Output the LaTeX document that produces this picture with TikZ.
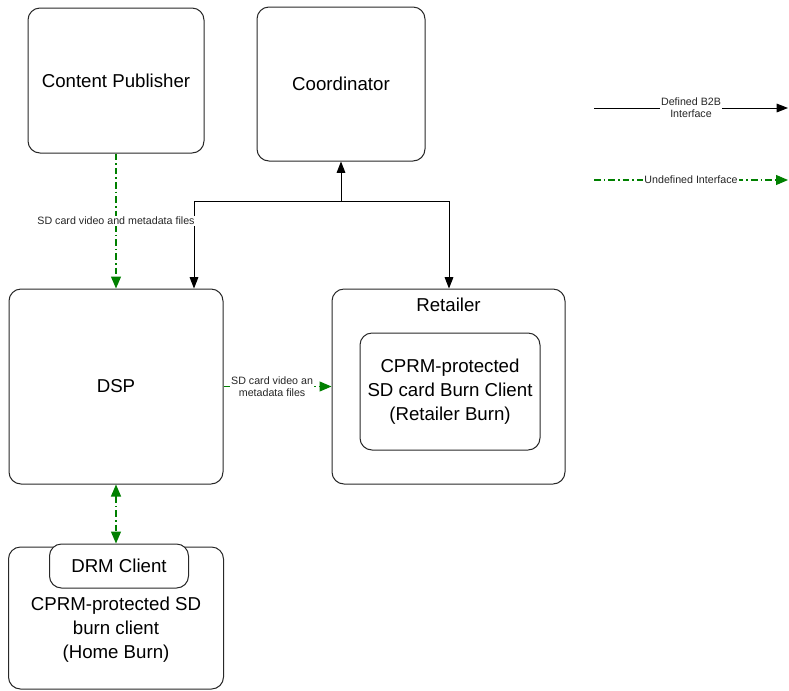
\documentclass[tikz,border=0pt]{standalone}
\usepackage{fontspec}
\setmainfont{Liberation Sans}
\usetikzlibrary{arrows.meta}
\definecolor{lgreen}{RGB}{0,128,0}
\definecolor{boxline}{RGB}{40,40,40}
\begin{document}
\begin{tikzpicture}[x=0.75pt,y=-0.75pt,
  box/.style={draw=boxline,line width=0.75pt,rounded corners=9pt,fill=white,inner sep=0pt,
    font=\fontsize{14}{18}\selectfont,align=center},
  bigtext/.style={inner sep=0pt,font=\fontsize{14}{18}\selectfont,align=center},
  smalllbl/.style={fill=white,inner sep=1pt,font=\fontsize{8}{9}\selectfont,align=center,text=black!85},
  bline/.style={draw=black,line width=0.75pt,-{Triangle[length=8.5pt,width=6.5pt]}},
  gline/.style={draw=lgreen,line width=0.9pt,dash pattern=on 5pt off 2.25pt on 1.2pt off 2.25pt,
    -{Triangle[length=9pt,width=7.5pt]}},
  gboth/.style={draw=lgreen,line width=0.9pt,dash pattern=on 5pt off 2.25pt on 1.2pt off 2.25pt,
    {Triangle[length=9pt,width=7.5pt]}-{Triangle[length=9pt,width=7.5pt]}}
]
\useasboundingbox (0,0) rectangle (789,690);

% boxes
\node[box,minimum width=132pt,minimum height=108.75pt] (cp) at (116,80.5) {Content Publisher};
\node[box,minimum width=126pt,minimum height=115.5pt] (coord) at (341,84) {Coordinator};
\node[box,minimum width=160.5pt,minimum height=146.25pt] (dsp) at (116,386.5) {DSP};
\node[box,minimum width=174.75pt,minimum height=146.25pt] (ret) at (448.5,386.5) {};
\node[bigtext] (retlbl) at (448.5,305) {Retailer};
\node[box,minimum width=135pt,minimum height=87.75pt] (inner) at (450,391.5) {CPRM-protected\\SD card Burn Client\\(Retailer Burn)};
\node[box,minimum width=161.25pt,minimum height=106.5pt] (home) at (116,618) {};
\node[box,minimum width=104.25pt,minimum height=33pt] (drm) at (119,566) {DRM Client};
\node[bigtext] (homelbl) at (116,630) {CPRM-protected SD\\burn client\\(Home Burn)};

% coordinator connectors
\coordinate (j) at (341,201);
\coordinate (lt) at (194,201);
\coordinate (rt) at (449,201);
\draw[bline] (j) -- (coord.south);
\draw[bline] (j) -- (lt) -- (lt |- dsp.north);
\draw[bline] (j) -- (rt) -- (rt |- ret.north);

% green connectors
\draw[gline] (cp.south) -- node[smalllbl] (lbl1) {SD card video and metadata files} (dsp.north);
\draw[gline] (dsp.east) -- node[smalllbl,pos=0.45] (lbl2) {SD card video an\\metadata files} (ret.west);
\draw[gboth] (dsp.south) -- (dsp.south |- drm.north);

% legend
\coordinate (l1a) at (594,108);
\coordinate (l1b) at (788,108);
\draw[bline] (l1a) -- node[smalllbl] (leg1) {Defined B2B\\Interface} (l1b);
\coordinate (l2a) at (594,180);
\coordinate (l2b) at (788,180);
\draw[gline] (l2a) -- node[smalllbl] (leg2) {Undefined Interface} (l2b);
\end{tikzpicture}
\end{document}
